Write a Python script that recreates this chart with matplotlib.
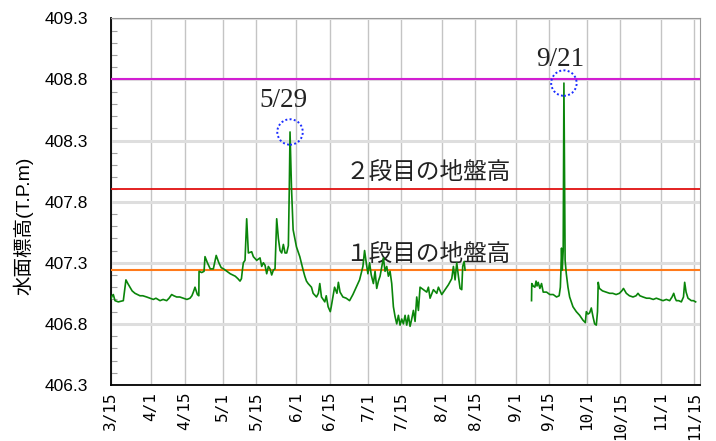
import numpy as np
import pandas as pd
import matplotlib
matplotlib.use("Agg")
import matplotlib.pyplot as plt
import matplotlib.dates as mdates
from matplotlib.patches import Ellipse
from matplotlib.ticker import MultipleLocator

plt.rcParams['font.family'] = ['Liberation Sans', 'Noto Sans CJK JP', 'DejaVu Sans']

## Data : water level (T.P.m), days counted from 3/15
START = pd.Timestamp("2021-03-15")

days = [
    0.0, 0.6, 1.1, 1.8, 3.2, 5.3, 5.9, 6.4, 7.2, 8.1, 9.0, 10.2, 11.2, 12.3, 13.5,
    15.1, 16.5, 17.9, 19.0, 20.7, 22.0, 23.5, 24.5, 25.6, 26.5, 27.7, 29.0, 30.5,
    32.0, 33.3, 34.1, 34.7, 35.4, 36.4, 37.0, 37.1, 38.2, 39.2, 39.6, 40.6, 41.8,
    43.1, 44.3, 45.4, 46.4, 47.4, 48.8, 50.2, 51.2, 52.3, 53.4, 54.3, 54.9, 55.3,
    55.7, 56.4, 57.1, 57.8, 59.2, 59.9, 61.3, 62.7, 63.4, 64.1, 64.8, 65.5, 66.2,
    66.9, 67.6, 68.3, 69.0, 69.7, 70.4, 71.1, 71.8, 72.5, 73.2, 73.9, 74.6, 75.0,
    75.3, 75.9, 76.6, 78.0, 79.4, 80.8, 81.5, 82.2, 82.9, 84.3, 85.0, 86.4, 87.2,
    87.8, 88.5, 89.9, 90.5, 91.3, 92.2, 92.6, 93.3, 94.0, 95.0, 95.6, 96.3, 97.5,
    98.9, 100.3, 101.7, 103.1, 104.5, 105.9, 106.6, 107.3, 108.0, 108.7, 109.4,
    110.3, 111.0, 111.7, 112.4, 113.1, 114.5, 115.2, 115.9, 116.6, 117.3, 118.0,
    118.7, 119.4, 120.1, 120.8, 121.5, 122.2, 122.9, 123.6, 124.3, 125.0, 125.7,
    126.4, 127.1, 127.8, 128.5, 129.2, 129.9, 131.3, 132.7, 133.4, 134.1, 135.5,
    136.9, 137.6, 139.0, 140.4, 141.8, 143.2, 143.9, 144.6, 145.3, 146.0, 146.7,
    147.4, 147.8, 148.4, 148.8,
    160.0,
    176.7, 176.8, 177.4, 178.1, 178.6, 179.0, 179.5, 180.2, 180.9, 181.6, 183.0,
    184.4, 185.8, 187.2, 188.3, 188.8, 189.0, 189.3, 189.6, 190.0, 190.3, 190.8,
    191.3, 192.0, 192.7, 194.1, 195.5, 196.9, 198.3, 199.3, 199.7, 200.4, 201.1,
    201.8, 202.5, 203.2, 203.9, 204.4, 204.7, 205.2, 206.5, 208.0, 209.5, 210.8,
    212.2, 213.6, 214.6, 215.3, 216.5, 217.8, 219.3, 220.6, 221.4, 222.2, 223.5,
    225.0, 226.3, 227.8, 229.1, 230.5, 231.9, 233.3, 234.7, 235.7, 236.4, 237.0,
    237.5, 238.5, 239.6, 240.5, 241.0, 241.6, 242.4, 243.1, 243.8, 244.7, 245.6,
]

level = [
    407.00, 407.03, 407.04, 406.99, 406.98, 406.99, 407.08, 407.16, 407.13, 407.10,
    407.07, 407.05, 407.04, 407.03, 407.03, 407.02, 407.01, 407.00, 407.01, 406.99,
    407.00, 406.99, 407.01, 407.04, 407.03, 407.02, 407.02, 407.01, 407.00, 407.01,
    407.03, 407.06, 407.10, 407.04, 407.03, 407.23, 407.22, 407.23, 407.35, 407.30,
    407.25, 407.25, 407.36, 407.30, 407.26, 407.25, 407.23, 407.21, 407.20, 407.19,
    407.17, 407.15, 407.17, 407.24, 407.30, 407.32, 407.66, 407.38, 407.39, 407.35,
    407.32, 407.34, 407.27, 407.30, 407.28, 407.21, 407.27, 407.25, 407.20, 407.24,
    407.25, 407.66, 407.50, 407.40, 407.38, 407.45, 407.38, 407.38, 407.44, 407.92,
    408.37, 407.92, 407.57, 407.43, 407.35, 407.24, 407.19, 407.15, 407.13, 407.10,
    407.05, 407.02, 407.05, 407.13, 407.02, 406.98, 407.03, 406.94, 406.90, 406.94,
    407.02, 407.10, 407.05, 407.14, 407.06, 407.02, 407.01, 406.99, 407.04, 407.10,
    407.16, 407.27, 407.40, 407.30, 407.21, 407.30, 407.20, 407.13, 407.23, 407.09,
    407.15, 407.19, 407.34, 407.23, 407.27, 407.19, 407.23, 407.13, 406.94, 406.86,
    406.80, 406.87, 406.79, 406.84, 406.80, 406.87, 406.79, 406.87, 406.78, 406.84,
    406.91, 406.82, 407.02, 406.91, 407.10, 407.08, 407.06, 407.10, 407.01, 407.08,
    407.05, 407.10, 407.04, 407.08, 407.12, 407.17, 407.27, 407.16, 407.30, 407.19,
    407.09, 407.08, 407.27, 407.31, 407.24,
    np.nan,
    406.99, 407.13, 407.11, 407.10, 407.15, 407.11, 407.14, 407.09, 407.13, 407.06,
    407.06, 407.04, 407.04, 407.02, 407.03, 407.10, 407.21, 407.42, 407.24, 407.40,
    408.77, 407.32, 407.21, 407.10, 407.02, 406.94, 406.90, 406.87, 406.83, 406.81,
    406.90, 406.88, 406.89, 406.93, 406.86, 406.80, 406.79, 406.90, 407.14, 407.09,
    407.07, 407.06, 407.05, 407.05, 407.04, 407.05, 407.07, 407.09, 407.05, 407.03,
    407.02, 407.03, 407.05, 407.03, 407.02, 407.01, 407.01, 407.00, 407.01, 407.00,
    406.99, 407.00, 406.99, 407.02, 407.05, 407.01, 406.99, 406.99, 406.98, 407.02,
    407.14, 407.06, 407.01, 407.00, 406.99, 406.99, 406.98,
]

# reference heights
ground_1 = 407.24   # 1段目の地盤高
ground_2 = 407.90   # 2段目の地盤高
limit_top = 408.80

tick_dates = ["3/15", "4/1", "4/15", "5/1", "5/15", "6/1", "6/15", "7/1", "7/15",
              "8/1", "8/15", "9/1", "9/15", "10/1", "10/15", "11/1", "11/15"]
peak_labels = ["5/29", "9/21"]


def main():
    t = START + pd.to_timedelta(days, unit="D")
    y = np.array(level, dtype=float)

    fig = plt.figure(figsize=(7.16, 4.41), dpi=100)
    ax = fig.add_axes([0.1546, 0.127, 0.9772 - 0.1546, 0.9585 - 0.127])

    # horizontal reference lines
    ax.axhline(limit_top, color="#d21ed2", lw=1.5, zorder=3)
    ax.axhline(ground_2, color="#e01010", lw=1.3, zorder=3)
    ax.axhline(ground_1, color="#ff7a1a", lw=1.5, zorder=3)

    ax.plot(t, y, color="#0a850a", lw=1.2, zorder=4)

    # axis range / ticks
    ax.set_ylim(406.3, 409.3)
    ax.set_xlim(START, START + pd.Timedelta(days=247.3))
    ax.yaxis.set_minor_locator(MultipleLocator(0.1))
    yt = np.arange(406.3, 409.31, 0.5)
    ax.set_yticks(yt)
    ax.set_yticklabels(["%.1f" % v for v in yt], fontsize=12.5)

    xt = [pd.Timestamp("2021/" + s) for s in tick_dates]
    ax.set_xticks(xt)
    ax.set_xticklabels(tick_dates, rotation=90, fontsize=11.5,
                       family=["DejaVu Sans Mono"])

    ax.tick_params(axis="y", which="major", length=0, pad=16)
    ax.tick_params(axis="y", which="minor", direction="in", length=4,
                   color="#a0a0a0", width=0.8)
    ax.tick_params(axis="x", which="major", length=0, pad=5)

    ax.grid(axis="y", which="major", color="#dedede", lw=2.2, zorder=0)
    ax.grid(axis="x", which="major", color="#c4c4c4", lw=1.0, zorder=0)
    ax.set_axisbelow(True)

    for side in ("top", "right"):
        ax.spines[side].set_color("#999999")
    for side in ("left", "bottom"):
        ax.spines[side].set_color("black")
        ax.spines[side].set_linewidth(1.3)

    fig.text(23.5 / 716, 1 - 226 / 441, "水面標高(T.P.m)", rotation=90,
             ha="center", va="center", fontsize=14)

    # ground level labels
    mid = START + pd.Timedelta(days=133.2)
    ax.annotate("２段目の地盤高", xy=(mid, ground_2), xytext=(0, 4),
                textcoords="offset points", ha="center", va="bottom",
                fontsize=17, family=["Noto Sans CJK JP"], color="#222222")
    ax.annotate("１段目の地盤高", xy=(mid, ground_1), xytext=(0, 3),
                textcoords="offset points", ha="center", va="bottom",
                fontsize=17, family=["Noto Sans CJK JP"], color="#222222")

    # peaks with dotted circles
    seg1 = slice(0, days.index(160.0))
    seg2 = slice(days.index(160.0) + 1, len(days))
    offsets = [(-5, 23), (-3, 17)]
    for seg, lab, off in zip((seg1, seg2), peak_labels, offsets):
        yy = y[seg]
        i = int(np.nanargmax(yy))
        pt, pv = t[seg][i], yy[i]
        ax.add_patch(Ellipse((mdates.date2num(pt), pv), 10.7, 0.208,
                             fill=False, ec="#1a2cff", lw=1.4, ls=(0, (1, 1.2)),
                             zorder=5))
        ax.annotate(lab, xy=(pt, pv), xytext=off, textcoords="offset points",
                    ha="center", va="center", fontsize=19.5,
                    family=["Liberation Serif"], color="#222222")

    fig.savefig("out.png", dpi=100)


if __name__ == "__main__":
    main()
